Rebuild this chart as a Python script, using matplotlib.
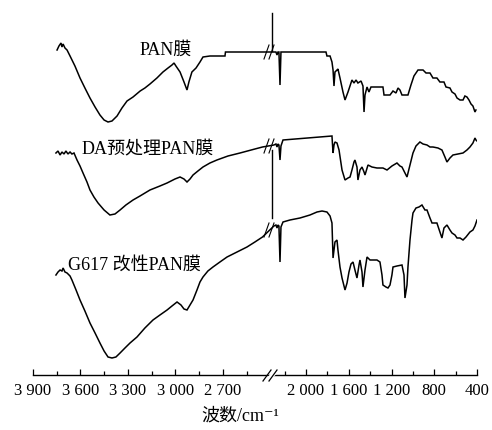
import numpy as np
import matplotlib
matplotlib.use("Agg")
import matplotlib.pyplot as plt
from matplotlib.ticker import FixedLocator, FixedFormatter

plt.rcParams['font.family'] = ['Liberation Serif', 'Noto Sans CJK SC', 'DejaVu Sans']

# ---------------- data (wavenumber, offset signal; larger value = lower on chart) -------------
pan_wn = [3748, 3736, 3723, 3717, 3710, 3698, 3685, 3666, 3635, 3603, 3572, 3540, 3508, 3477,
          3451, 3426, 3401, 3369, 3338, 3306, 3268, 3223, 3193, 3161, 3117, 3079, 3047, 3022,
          3009, 2997, 2971, 2946, 2927, 2915, 2896, 2870, 2845, 2826, 2782, 2687, 2684, 2450,
          2300, 2281, 2271, 2262, 2253, 2243, 2234, 1813, 1804, 1775, 1757, 1747, 1738, 1729,
          1710, 1701, 1682, 1654, 1635, 1607, 1570, 1551, 1532, 1514, 1485, 1467, 1457, 1448,
          1429, 1411, 1392, 1355, 1280, 1270, 1214, 1186, 1158, 1139, 1121, 1102, 1046, 1018,
          990, 952, 905, 877, 840, 812, 775, 747, 709, 690, 653, 634, 606, 587, 559, 531, 513,
          494, 475, 456, 438, 419, 410]
pan_val = [50, 46, 43, 47, 44, 48, 50, 56, 66, 78, 88, 98, 107, 115,
           120, 122, 121, 116, 108, 101, 97, 91, 88, 84, 78, 72, 68, 65,
           63, 66, 72, 82, 90, 82, 72, 68, 62, 57, 56, 56, 52, 52,
           52, 52, 55, 52, 52, 85, 52, 52, 56, 56, 62, 70, 86, 72,
           70, 69, 78, 92, 100, 92, 80, 83, 80, 83, 81, 86, 112, 95,
           87, 92, 87, 87, 87, 95, 95, 91, 93, 88, 90, 95, 95, 85,
           76, 70, 70, 73, 73, 78, 78, 82, 82, 87, 88, 92, 94, 98, 100, 100, 96,
           97, 100, 104, 106, 112, 110]

da_wn = [3755, 3742, 3729, 3717, 3704, 3692, 3679, 3666, 3654, 3641, 3622, 3603, 3584, 3559,
         3540, 3515, 3489, 3451, 3414, 3382, 3350, 3313, 3268, 3224, 3161, 3098, 3053, 3003,
         2971, 2946, 2927, 2908, 2889, 2858, 2826, 2782, 2738, 2668, 2592, 2498, 2450,
         2300, 2281, 2271, 2262, 2253, 2243, 2234, 2215, 1757, 1747, 1738, 1729, 1710, 1691,
         1663, 1635, 1607, 1588, 1570, 1551, 1542, 1523, 1514, 1495, 1476, 1457, 1448, 1420,
         1383, 1336, 1280, 1242, 1196, 1149, 1121, 1102, 1074, 1055, 1027, 999, 971, 934, 905,
         868, 840, 812, 765, 728, 700, 681, 653, 625, 578, 531, 494, 466, 438, 419, 410, 400]
da_val = [153, 151, 155, 152, 154, 151, 154, 152, 154, 153, 160, 166, 173, 182,
          190, 197, 203, 210, 215, 214, 210, 205, 200, 196, 190, 186, 183, 179,
          177, 179, 182, 179, 175, 171, 167, 163, 160, 156, 153, 149, 147,
          145, 144, 147, 144, 145, 160, 146, 140, 136, 153, 145, 142, 143, 150,
          170, 180, 178, 177, 170, 162, 160, 167, 180, 170, 167, 172, 175, 165,
          167, 168, 168, 170, 166, 163, 166, 167, 173, 177, 165, 153, 146, 142, 144,
          145, 147, 147, 148, 150, 157, 162, 158, 155, 154, 153, 150, 147, 143, 138, 140, 141]

g617_wn = [3755, 3742, 3729, 3717, 3710, 3698, 3685, 3666, 3654, 3628, 3603, 3572, 3540, 3508,
           3477, 3451, 3426, 3401, 3376, 3350, 3319, 3287, 3243, 3193, 3142, 3098, 3053, 3022,
           2990, 2965, 2946, 2927, 2908, 2889, 2864, 2845, 2826, 2795, 2763, 2719, 2674, 2611,
           2548, 2498, 2450,
           2300, 2281, 2271, 2262, 2253, 2243, 2234, 2215, 2150, 2056, 1963, 1897, 1850, 1804,
           1775, 1757, 1747, 1729, 1710, 1701, 1682, 1663, 1635, 1616, 1598, 1579, 1560, 1542,
           1523, 1504, 1495, 1476, 1467, 1448, 1429, 1401, 1373, 1336, 1308, 1289, 1280, 1252,
           1233, 1214, 1196, 1186, 1149, 1102, 1083, 1074, 1055, 1046, 1027, 1008, 999, 971,
           943, 915, 887, 868, 840, 821, 775, 747, 728, 709, 681, 653, 634, 606, 587, 559, 531,
           503, 466, 438, 419, 400]
g617_val = [275, 272, 270, 271, 268, 272, 273, 276, 280, 290, 300, 311, 323, 333,
            343, 351, 357, 358, 357, 353, 348, 343, 337, 328, 320, 315, 310, 306,
            302, 305, 309, 310, 305, 300, 290, 282, 277, 271, 267, 262, 257, 252,
            247, 242, 237,
            226, 225, 228, 225, 226, 262, 227, 222, 220, 218, 215, 212, 211, 212,
            216, 223, 258, 242, 240, 250, 267, 278, 290, 283, 272, 264, 262, 270,
            278, 265, 260, 272, 287, 270, 257, 260, 260, 260, 262, 275, 285, 287,
            288, 285, 275, 267, 266, 265, 275, 298, 285, 267, 240, 220, 213, 208,
            207, 205, 210, 210, 218, 223, 223, 232, 238, 228, 225, 230, 233, 235, 238, 238, 240,
            237, 232, 230, 226, 220]

labels = ["PAN膜", "DA预处理PAN膜", "G617 改性PAN膜"]
major_ticks = [3900, 3600, 3300, 3000, 2700, 2000, 1600, 1200, 800, 400]
major_labels = ["3 900", "3 600", "3 300", "3 000", "2 700", "2 000", "1 600", "1 200", "800", "400"]
minor_ticks = [3750, 3450, 3150, 2850, 2550, 2200, 1800, 1400, 1000, 600]

# ---------------- broken x scale (piecewise linear) ----------------
kn_w = np.array([-1000, 400, 2000, 2300, 2450, 3900, 6000], dtype=float)
kn_u = np.array([626.7, 477, 306, 273.9, 262.5, 33, -299.4])


def fwd(w):
    return -np.interp(w, kn_w, kn_u)


def inv(v):
    return np.interp(-np.asarray(v), kn_u[::-1], kn_w[::-1])


W, H = 492, 430
fig = plt.figure(figsize=(W / 100, H / 100), dpi=100)
ax = fig.add_axes([33 / W, 55 / H, 444 / W, 375 / H])
ax.set_xscale('function', functions=(fwd, inv))
ax.set_xlim(3900, 400)
ax.set_ylim(375, 0)

lw = 1.1
for wn, val in [(pan_wn, pan_val), (da_wn, da_val), (g617_wn, g617_val)]:
    ax.plot(wn, val, color='black', lw=lw, solid_joinstyle='miter')


def px2w(px):
    return float(inv(-px))


# break vertical line segments (as in original)
brk = px2w(272)
ax.plot([brk, brk], [13, 51], color='black', lw=1.0)
ax.plot([brk, brk], [150, 218], color='black', lw=1.0)

# break marks on each curve
for yc in (52, 146, 230):
    for xc in (266.5, 271.5):
        ax.plot([px2w(xc - 2.5), px2w(xc + 2.5)], [yc + 7, yc - 7], color='black', lw=0.8)

# spines / ticks
for s in ('left', 'right', 'top'):
    ax.spines[s].set_visible(False)
ax.spines['bottom'].set_linewidth(1.0)
ax.set_yticks([])
ax.xaxis.set_major_locator(FixedLocator(major_ticks))
ax.xaxis.set_major_formatter(FixedFormatter(major_labels))
ax.xaxis.set_minor_locator(FixedLocator(minor_ticks))
ax.tick_params(axis='x', which='major', direction='in', length=4.5, width=0.9,
               labelsize=12, pad=6)
ax.tick_params(axis='x', which='minor', direction='in', length=3, width=0.9)

# axis break marks
ax.plot([px2w(268), px2w(276)], [379.5, 371.5], color='white',
        lw=3, clip_on=False, zorder=5)
for xc in (267, 273):
    ax.plot([px2w(xc - 4), px2w(xc + 4)], [381, 370], color='black', lw=0.9,
            clip_on=False, zorder=6)

ax.set_xlabel('波数/cm⁻¹', fontsize=13)
ax.xaxis.set_label_coords((240 - 33) / 444, (375 - 408) / 375)

# curve labels
fig.text(140 / W, 1 - 50 / H, labels[0], fontsize=13, ha='left', va='center')
fig.text(82 / W, 1 - 150 / H, labels[1], fontsize=13, ha='left', va='center')
fig.text(68 / W, 1 - 265 / H, labels[2], fontsize=13, ha='left', va='center')

fig.savefig('out.png', dpi=100)
